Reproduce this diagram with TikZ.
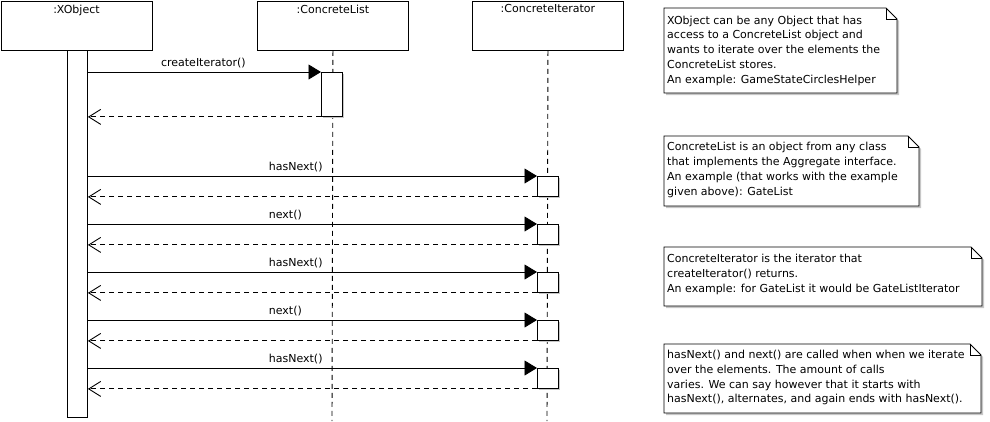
\documentclass[tikz,border=0pt]{standalone}
\usepackage{fontspec}
\setmainfont{DejaVu Sans}
\usetikzlibrary{arrows.meta,shadows,calc}
\begin{document}
\begin{tikzpicture}[x=1pt,y=-1pt,
  every node/.style={font=\fontsize{11}{14.8}\selectfont},
  head/.style={draw, line width=0.9pt, fill=white, minimum width=151pt, minimum height=49.5pt, inner sep=0pt, anchor=north west},
  headlabel/.style={anchor=north, inner sep=0pt, yshift=-4pt},
  lifeline/.style={line width=0.9pt, dash pattern=on 5pt off 4pt},
  act/.style={draw, line width=0.9pt, fill=white, minimum width=21pt, inner sep=0pt, anchor=north west,
    drop shadow={shadow xshift=2pt, shadow yshift=-2pt, fill=black!22, opacity=1}},
  msg/.style={line width=0.9pt, -{Triangle[length=12.5pt,width=15pt]}},
  ret/.style={line width=0.9pt, dash pattern=on 5pt off 4pt, -{Straight Barb[length=12pt,width=15pt,line width=0.9pt]}},
  mlabel/.style={anchor=base west, inner sep=0pt, yshift=5.3pt},
  notebox/.style={draw, line width=0.9pt, fill=white, line join=miter},
  noteshadow/.style={fill=black!22},
  notetext/.style={anchor=north west, inner sep=0pt, align=left},
]
\useasboundingbox (0,0) rectangle (990,421);

% lifeline heads
\node[head, label={[headlabel]north::XObject}] (xo) at (0.5,0.5) {};
\node[head, label={[headlabel]north::ConcreteList}] (cl) at (257,0.5) {};
\node[head, label={[headlabel]north::ConcreteIterator}] (ci) at (472,0.5) {};

% lifeline ends
\coordinate (clend) at (332,421);
\coordinate (ciend) at (547,421);
\draw[lifeline] (cl.south) -- (clend);
\draw[lifeline] (ci.south) -- (ciend);

% activation bars
\node[draw, line width=0.9pt, fill=white, minimum width=20pt, minimum height=367pt, inner sep=0pt, anchor=north west] (xbar) at (67,50) {};
\node[act, minimum height=44pt] (cla) at (321,72) {};
\node[act, minimum height=20pt] (c1) at (537,176) {};
\node[act, minimum height=20pt] (c2) at (537,224) {};
\node[act, minimum height=20pt] (c3) at (537,272) {};
\node[act, minimum height=20pt] (c4) at (537,320) {};
\node[act, minimum height=20pt] (c5) at (537,368) {};

% messages
\draw[msg] (xbar.east |- cla.north west) -- node[mlabel, pos=0.312] {createIterator()} (cla.north west);
\draw[ret] (cla.south west) -- (xbar.east |- cla.south west);
\draw[msg] (xbar.east |- c1.north west) -- node[mlabel, pos=0.402] {hasNext()} (c1.north west);
\draw[ret] (c1.south west) -- (xbar.east |- c1.south west);
\draw[msg] (xbar.east |- c2.north west) -- node[mlabel, pos=0.402] {next()} (c2.north west);
\draw[ret] (c2.south west) -- (xbar.east |- c2.south west);
\draw[msg] (xbar.east |- c3.north west) -- node[mlabel, pos=0.402] {hasNext()} (c3.north west);
\draw[ret] (c3.south west) -- (xbar.east |- c3.south west);
\draw[msg] (xbar.east |- c4.north west) -- node[mlabel, pos=0.402] {next()} (c4.north west);
\draw[ret] (c4.south west) -- (xbar.east |- c4.south west);
\draw[msg] (xbar.east |- c5.north west) -- node[mlabel, pos=0.402] {hasNext()} (c5.north west);
\draw[ret] (c5.south west) -- (xbar.east |- c5.south west);

% notes: #1 x1, #2 y1, #3 x2, #4 y2
\newcommand{\umlnote}[4]{%
  \fill[noteshadow] (#1+2,#2+2) -- (#3-11+2,#2+2) -- (#3+2,#2+11+2) -- (#3+2,#4+2) -- (#1+2,#4+2) -- cycle;
  \draw[notebox] (#1,#2) -- (#3-11,#2) -- (#3,#2+11) -- (#3,#4) -- (#1,#4) -- cycle;
  \draw[line width=0.9pt] (#3-11,#2) -- (#3-11,#2+11) -- (#3,#2+11);
}
\umlnote{664}{8}{897}{93}
\node[notetext] (n1) at (667,15.5) {XObject can be any Object that has\\access to a ConcreteList object and\\wants to iterate over the elements the\\ConcreteList stores.\\An example: GameStateCirclesHelper};
\umlnote{664}{136}{919}{206}
\node[notetext] (n2) at (667,142.2) {ConcreteList is an object from any class\\that implements the Aggregate interface.\\An example (that works with the example\\given above): GateList};
\umlnote{664}{247}{982}{306}
\node[notetext] (n3) at (667,254.2) {ConcreteIterator is the iterator that\\createIterator() returns.\\An example: for GateList it would be GateListIterator};
\umlnote{664}{344}{981}{413}
\node[notetext] (n4) at (667,350) {hasNext() and next() are called when when we iterate\\over the elements. The amount of calls\\varies. We can say however that it starts with\\hasNext(), alternates, and again ends with hasNext().};
\end{tikzpicture}
\end{document}
